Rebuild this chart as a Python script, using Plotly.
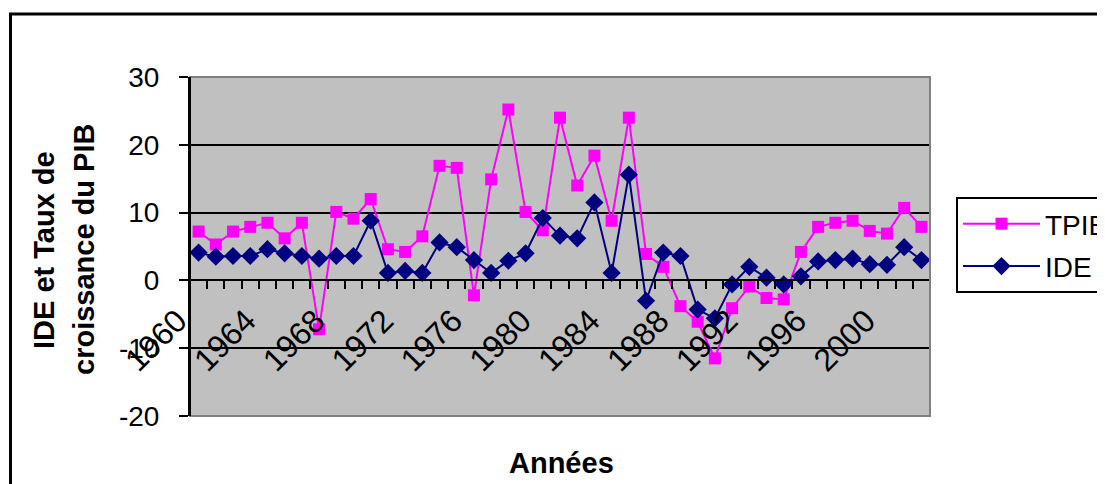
import plotly.graph_objects as go

years = list(range(1960, 2003))
tpib = [7.2, 5.3, 7.2, 7.9, 8.5, 6.2, 8.5, -7.2, 10.1, 9.1, 12.0, 4.6, 4.2, 6.5, 16.9,
        16.6, -2.2, 14.9, 25.2, 10.1, 7.4, 24.0, 14.0, 18.4, 8.8, 24.0, 3.9, 2.0, -3.8,
        -6.1, -11.5, -4.1, -0.9, -2.6, -2.8, 4.2, 7.9, 8.5, 8.8, 7.3, 6.9, 10.7, 7.9]
ide = [4.1, 3.5, 3.6, 3.6, 4.6, 4.0, 3.6, 3.2, 3.6, 3.6, 8.8, 1.1, 1.4, 1.1, 5.6,
       4.9, 3.0, 1.1, 2.9, 4.0, 9.2, 6.6, 6.2, 11.5, 1.1, 15.6, -3.0, 4.1, 3.6,
       -4.3, -5.6, -0.6, 2.0, 0.4, -0.6, 0.6, 2.8, 3.0, 3.2, 2.4, 2.3, 4.9, 3.0]
xticks = [1960, 1964, 1968, 1972, 1976, 1980, 1984, 1988, 1992, 1996, 2000]
yticks = [-20, -10, 0, 10, 20, 30]
ytext = ["-20", "-10", "0", "10", "20", "30"]

# page body has an 8px margin: work in screen pixels, convert to figure pixels
OFF = 8
W, H = 1105 - OFF, 484 - OFF
L, R, T, B = 190 - OFF, 930 - OFF, 77 - OFF, 416 - OFF
FONT = "Liberation Sans, Arial, sans-serif"

def px_x(sx):
    return (sx - OFF - L) / (R - L)

def px_y(sy):
    return (B - (sy - OFF)) / (B - T)

fig = go.Figure()
fig.add_trace(go.Scatter(x=years, y=tpib, name="TPIB", mode="lines+markers",
                         legendgroup="a",
                         line=dict(color="#FF00FF", width=2),
                         marker=dict(symbol="square", size=12, color="#FF00FF")))
fig.add_trace(go.Scatter(x=years, y=ide, name="IDE", mode="lines+markers",
                         legendgroup="b",
                         line=dict(color="#000080", width=2),
                         marker=dict(symbol="diamond", size=14, color="#000080")))

fig.update_layout(
    width=W, height=H,
    margin=dict(l=L, r=W - R, t=T, b=H - B, pad=0, autoexpand=False),
    paper_bgcolor="white", plot_bgcolor="#C0C0C0",
    font=dict(family=FONT, size=28, color="black"),
    showlegend=True,
    legend=dict(x=px_x(956), y=px_y(197), xanchor="left", yanchor="top",
                bgcolor="white", bordercolor="black", borderwidth=2,
                font=dict(size=28), itemwidth=77, tracegroupgap=3),
    xaxis=dict(range=[1959.5, 2002.5], anchor="free", position=0.4,
               tickmode="array", tickvals=xticks, ticktext=[str(v) for v in xticks],
               tickangle=-45, ticks="", showgrid=False, zeroline=False,
               showline=True, linecolor="black", linewidth=1.5,
               tickfont=dict(size=32), ticklabelstandoff=8, ticklabelshift=-21,
               minor=dict(ticks="outside", ticklen=8, tickwidth=1.5, tickcolor="black",
                          tick0=1959.5, dtick=1, showgrid=False)),
    yaxis=dict(range=[-20, 30], tickmode="array", tickvals=yticks, ticktext=ytext,
               domain=[0, 1], showgrid=True,
               gridcolor="black", gridwidth=1.5, zeroline=False,
               showline=True, linecolor="black", linewidth=2,
               ticks="outside", ticklen=9, tickwidth=1.5, tickcolor="black",
               tickfont=dict(size=28), ticklabelstandoff=14),
)

# plot-area border (gray)
fig.add_shape(type="rect", xref="paper", yref="paper", x0=0, x1=1, y0=0, y1=1,
              line=dict(color="#808080", width=2), layer="above")
fig.add_shape(type="line", xref="paper", yref="paper", x0=0, x1=0, y0=0, y1=1,
              line=dict(color="black", width=2), layer="above")
# outer chart border
fig.add_shape(type="rect", xref="paper", yref="paper",
              x0=px_x(10.5), x1=px_x(1130), y0=px_y(14), y1=px_y(520),
              line=dict(color="black", width=3), layer="above")

fig.add_annotation(text="<b>IDE et Taux de</b>", textangle=-90,
                   xref="paper", yref="paper", x=px_x(44), y=px_y(250),
                   xanchor="center", yanchor="middle", showarrow=False,
                   font=dict(size=29, family=FONT))
fig.add_annotation(text="<b>croissance du PIB</b>", textangle=-90,
                   xref="paper", yref="paper", x=px_x(84), y=px_y(250),
                   xanchor="center", yanchor="middle", showarrow=False,
                   font=dict(size=29, family=FONT))
fig.add_annotation(text="<b>Années</b>", xref="paper", yref="paper",
                   x=px_x(561), y=px_y(463), xanchor="center", yanchor="middle",
                   showarrow=False, font=dict(size=29, family=FONT))

fig.write_html("out.html")
